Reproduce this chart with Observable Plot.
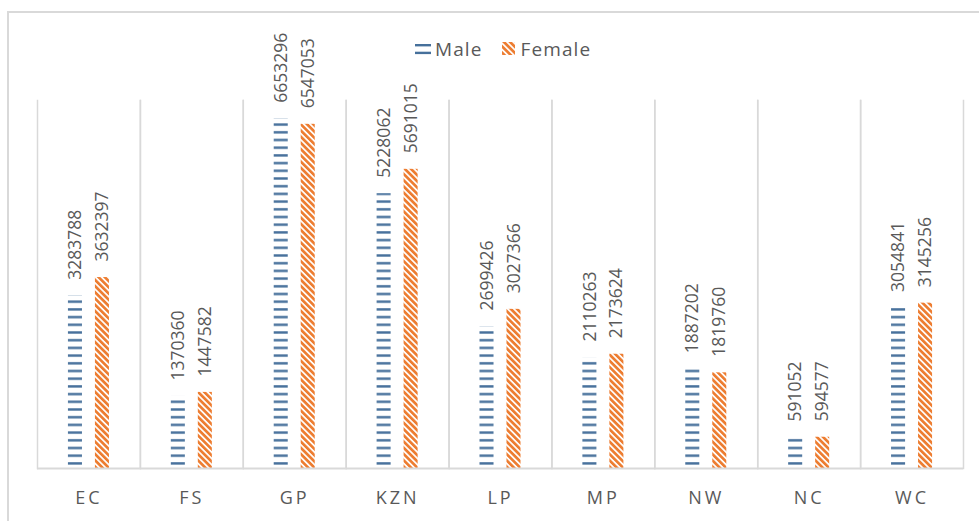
<!DOCTYPE html>
<html>
<head>
<meta charset="utf-8">
<script src="https://cdn.jsdelivr.net/npm/d3@7"></script>
<script src="https://cdn.jsdelivr.net/npm/@observablehq/plot@0.6"></script>
<style>
  html, body { margin: 0; padding: 0; background: white; }
  #wrap { position: relative; width: 979px; height: 521px; overflow: hidden; }
  #border { position: absolute; left: 7px; top: 11px; right: -5px; bottom: -5px;
            border-left: 2px solid #d9d9d9; border-top: 2px solid #d9d9d9; pointer-events: none; }
  #legend { position: absolute; top: 36px; left: 414px; display: flex; align-items: center;
            font-family: 'Open Sans', sans-serif; font-size: 19px; color: #595959; letter-spacing: 1.1px; }
  #legend .item { display: flex; align-items: center; }
  #legend svg { display: block; }
</style>
</head>
<body>
<div id="wrap">
  <div id="chart"></div>
  <div id="border"></div>
  <div id="legend"></div>
</div>
<script>
const regions = ["EC", "FS", "GP", "KZN", "LP", "MP", "NW", "NC", "WC"];
const maleValues = [3283788, 1370360, 6653296, 5228062, 2699426, 2110263, 1887202, 591052, 3054841];
const femaleValues = [3632397, 1447582, 6547053, 5691015, 3027366, 2173624, 1819760, 594577, 3145256];
const seriesNames = ["Male", "Female"];

const rows = regions.flatMap((r, i) => [
  {region: r, sex: seriesNames[0], value: maleValues[i]},
  {region: r, sex: seriesNames[1], value: femaleValues[i]}
]);

const MALE_COLOR = "#46709b";
const FEMALE_COLOR = "#ed7d31";

const patternDefs = (suffix) => `
  <pattern id="malePat${suffix}" patternUnits="userSpaceOnUse" width="10" height="7.7">
    <rect x="0" y="0" width="10" height="7.7" fill="white"/>
    <rect x="0" y="0.2" width="10" height="2.4" fill="${MALE_COLOR}"/>
  </pattern>
  <pattern id="femalePat${suffix}" patternUnits="userSpaceOnUse" width="4.4" height="10" patternTransform="rotate(-45)">
    <rect x="0" y="0" width="4.4" height="10" fill="white"/>
    <rect x="0" y="0" width="2.7" height="10" fill="${FEMALE_COLOR}"/>
  </pattern>`;

const chart = Plot.plot({
  width: 979,
  height: 521,
  marginTop: 100,
  marginBottom: 53,
  marginLeft: 37,
  marginRight: 16,
  style: {fontFamily: "'Open Sans', sans-serif", fontSize: "18px", color: "#595959", background: "white", overflow: "visible"},
  fx: {domain: regions, padding: 0, round: false, axis: "bottom", tickSize: 0, tickPadding: 23, label: null},
  x: {domain: seriesNames, paddingInner: 0.48, paddingOuter: 1.146, round: false, axis: null},
  y: {domain: [0, 7000000], axis: null},
  marks: [
    Plot.frame({anchor: "left", stroke: "#d9d9d9", strokeWidth: 1.5, strokeOpacity: 1}),
    Plot.frame({anchor: "right", stroke: "#d9d9d9", strokeWidth: 1.5, strokeOpacity: 1}),
    Plot.barY(rows.filter(d => d.sex === "Male"), {fx: "region", x: "sex", y: "value", fill: "url(#malePatC)"}),
    Plot.barY(rows.filter(d => d.sex === "Female"), {fx: "region", x: "sex", y: "value", fill: "url(#femalePatC)"}),
    Plot.ruleY([0], {stroke: "#d9d9d9", strokeWidth: 2}),
    Plot.text(rows, {
      fx: "region", x: "sex", y: "value", text: d => String(d.value),
      rotate: -90, textAnchor: "start", dy: -16,
      fill: "#595959", fontSize: 17.5, ariaLabel: "value-labels"
    })
  ]
});

d3.select(chart).insert("defs", ":first-child").html(patternDefs("C"));
d3.select(chart).selectAll('g[aria-label^="fx-axis"] text')
  .style("letter-spacing", "3px").attr("fill", "#595959");
d3.select(chart).selectAll('g[aria-label="value-labels"] text')
  .style("letter-spacing", "0.6px");
document.getElementById("chart").appendChild(chart);

// legend
const legend = d3.select("#legend");
const m = legend.append("div").attr("class", "item");
m.append("svg").attr("width", 17).attr("height", 16)
  .html(`<rect x="1" y="3" width="16" height="2.4" fill="${MALE_COLOR}"/><rect x="1" y="10.7" width="16" height="2.4" fill="${MALE_COLOR}"/>`);
m.append("span").style("margin-left", "4px").text(seriesNames[0]);
const f = legend.append("div").attr("class", "item").style("margin-left", "18px");
f.append("svg").attr("width", 14).attr("height", 16)
  .html(`<defs>${patternDefs("L")}</defs><rect x="1" y="1" width="13" height="13" fill="url(#femalePatL)"/>`);
f.append("span").style("margin-left", "6px").text(seriesNames[1]);
</script>
</body>
</html>
